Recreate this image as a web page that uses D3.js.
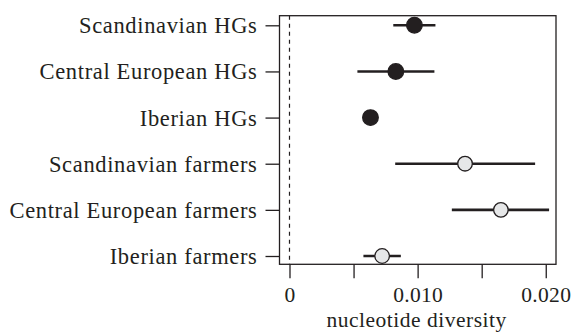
<!DOCTYPE html>
<html>
<head>
<meta charset="utf-8">
<script src="https://cdnjs.cloudflare.com/ajax/libs/d3/7.8.5/d3.min.js"></script>
<style>
  body { margin: 0; background: #fff; }
  text { font-family: "Liberation Serif", "Times New Roman", serif; fill: #231f20; }
</style>
</head>
<body>
<svg id="canvas" width="573" height="334"></svg>
<script>
let groups = ['Scandinavian HGs', 'Central European HGs', 'Iberian HGs',
              'Scandinavian farmers', 'Central European farmers', 'Iberian farmers']
let diversity = [0.00975, 0.0083, 0.00632, 0.0137, 0.0165, 0.00723]
let lower = [0.0081, 0.0053, 0.00632, 0.00825, 0.01267, 0.00577]
let upper = [0.01139, 0.01131, 0.00632, 0.01917, 0.02026, 0.00869]
let isFarmer = [false, false, false, true, true, true]
let xTicks = [0, 0.005, 0.010, 0.015, 0.020]
let xTickLabels = ['0', '', '0.010', '', '0.020']

let rows = groups.map((g, i) => ({
    name: g, value: diversity[i], lo: lower[i], hi: upper[i], farmer: isFarmer[i]
}))

let canvas = d3.select('#canvas')

let box = {left: 279.5, right: 556, top: 15.7, bottom: 264.3}

let xScale = d3.scaleLinear()
    .domain([-0.00078, 0.0208])
    .range([box.left, box.right])

let yScale = d3.scalePoint()
    .domain(groups)
    .range([25.3, 256])

// dashed reference line at zero
canvas.append('line')
    .attr('x1', xScale(0)).attr('x2', xScale(0))
    .attr('y1', box.top).attr('y2', box.bottom)
    .attr('stroke', '#231f20')
    .attr('stroke-width', 1.2)
    .attr('stroke-dasharray', '4,4')

// x axis
let xAxis = d3.axisBottom(xScale)
    .tickValues(xTicks)
    .tickFormat((d, i) => xTickLabels[i])
    .tickSize(14)
canvas.append('g')
    .attr('transform', `translate(0,${box.bottom})`)
    .call(xAxis)
    .call(g => g.select('.domain').remove())
    .call(g => g.selectAll('line').attr('stroke', '#231f20').attr('stroke-width', 1.3))
    .call(g => g.selectAll('text')
        .attr('y', 38).attr('dy', 0)
        .style('font-size', '21.5px')
        .style('letter-spacing', '0.3px')
        .attr('fill', '#231f20'))

// y axis
let yAxis = d3.axisLeft(yScale)
    .tickSize(14)
    .tickPadding(8)
canvas.append('g')
    .attr('transform', `translate(${box.left},0)`)
    .call(yAxis)
    .call(g => g.select('.domain').remove())
    .call(g => g.selectAll('line').attr('stroke', '#231f20').attr('stroke-width', 1.3))
    .call(g => g.selectAll('text')
        .attr('dy', '0.33em')
        .style('font-size', '22.5px')
        .style('letter-spacing', '0.65px')
        .attr('fill', '#231f20'))

// frame
canvas.append('rect')
    .attr('x', box.left).attr('y', box.top)
    .attr('width', box.right - box.left).attr('height', box.bottom - box.top)
    .attr('fill', 'none')
    .attr('stroke', '#231f20')
    .attr('stroke-width', 1.3)

// whiskers
canvas.selectAll('.whisker')
    .data(rows)
    .enter()
    .append('line')
    .attr('class', 'whisker')
    .attr('x1', d => xScale(d.lo))
    .attr('x2', d => xScale(d.hi))
    .attr('y1', d => yScale(d.name))
    .attr('y2', d => yScale(d.name))
    .attr('stroke', '#231f20')
    .attr('stroke-width', 2.6)

// points
canvas.selectAll('.point')
    .data(rows)
    .enter()
    .append('circle')
    .attr('class', 'point')
    .attr('cx', d => xScale(d.value))
    .attr('cy', d => yScale(d.name))
    .attr('r', d => d.farmer ? 7.3 : 7.8)
    .attr('fill', d => d.farmer ? '#e6e7e8' : '#231f20')
    .attr('stroke', '#231f20')
    .attr('stroke-width', 1.3)

// axis title
canvas.append('text')
    .attr('x', xScale(0.010) - 1)
    .attr('y', 326.5)
    .attr('text-anchor', 'middle')
    .style('font-size', '21.5px')
    .style('letter-spacing', '0.5px')
    .text('nucleotide diversity')
</script>
</body>
</html>
